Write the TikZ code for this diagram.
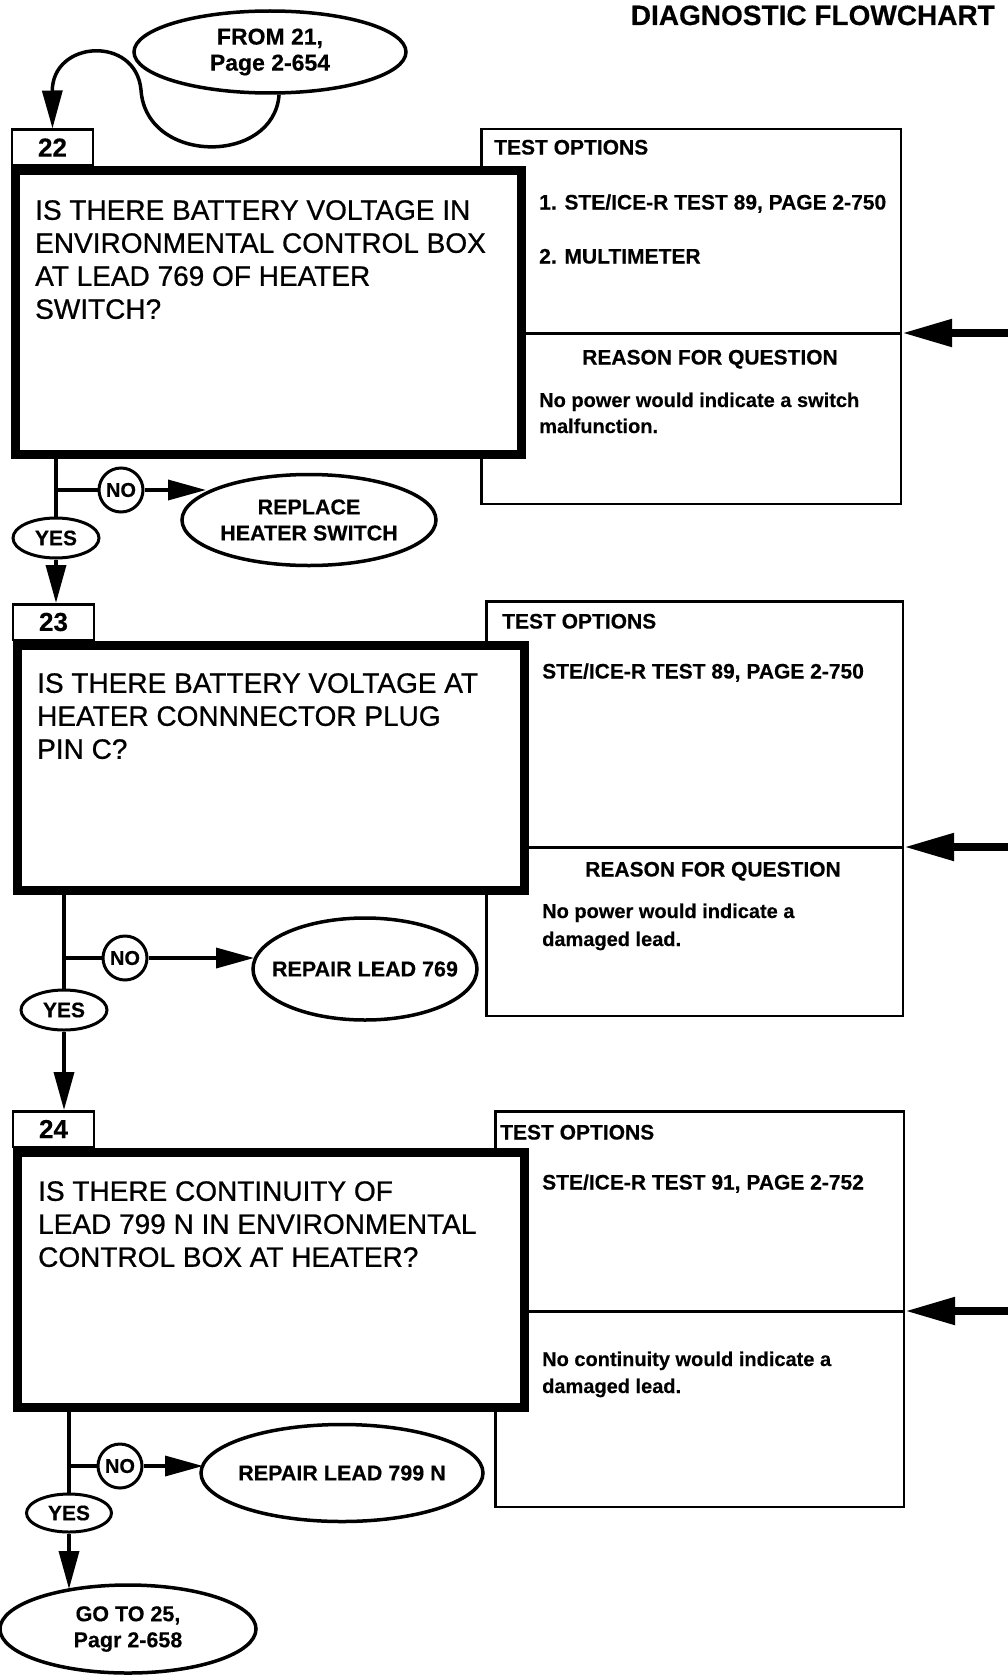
\documentclass[tikz,border=0pt]{standalone}
\usepackage{fontspec}
\setmainfont{Liberation Sans}
\usetikzlibrary{shapes.geometric,arrows.meta}
\begin{document}
\begin{tikzpicture}[x=1pt,y=-1pt,
  qbox/.style={draw, rectangle, line width=9pt, fill=white, inner sep=0pt},
  lblbox/.style={draw, rectangle, line width=2.5pt, fill=white, inner sep=0pt, minimum width=81pt, minimum height=35.5pt, font=\fontsize{26}{26}\selectfont\bfseries\addfontfeatures{FakeBold=0.4}},
  tbox/.style={draw, rectangle, line width=2.5pt, inner sep=0pt},
  tline/.style={line width=3pt},
  oval/.style={draw, ellipse, line width=3.5pt, inner sep=0pt, align=center, font=\fontsize{21.5}{26}\selectfont\bfseries\addfontfeatures{FakeBold=0.4}},
  yesoval/.style={draw, ellipse, line width=3pt, inner sep=0pt, minimum width=86pt, minimum height=40pt, font=\fontsize{21}{21}\selectfont\bfseries\addfontfeatures{FakeBold=0.4}},
  nocirc/.style={draw, circle, line width=3pt, inner sep=0pt, minimum size=44pt, font=\fontsize{20}{20}\selectfont\bfseries\addfontfeatures{FakeBold=0.4}},
  conn/.style={line width=3.5pt},
  arr/.style={line width=3.5pt, -{Triangle[length=38pt,width=20pt]}},
  bigarr/.style={line width=8pt, -{Triangle[length=50pt,width=26pt]}},
  small/.style={inner sep=0pt, anchor=base west, font=\fontsize{21}{25}\selectfont\bfseries\addfontfeatures{FakeBold=0.4}},
  note/.style={inner sep=0pt, anchor=base west, font=\fontsize{20}{26}\selectfont\bfseries\addfontfeatures{FakeBold=0.3}},
  qtext/.style={inner sep=0pt, anchor=north west, align=left, font=\fontsize{28}{33}\selectfont\addfontfeatures{FakeBold=0.7}}
]
\useasboundingbox (0,0) rectangle (1008,1675);

% title
\node[inner sep=0pt, anchor=base east, font=\fontsize{28}{28}\selectfont\bfseries\addfontfeatures{FakeBold=0.4}] (title) at (995,25) {DIAGNOSTIC FLOWCHART};

% entry oval
\node[oval, minimum width=272pt, minimum height=82pt, font=\fontsize{23}{26}\selectfont\bfseries\addfontfeatures{FakeBold=0.4}] (from) at (270,52) {FROM 21,\\Page 2-654};

% ---------- block 22 ----------
\node[tbox, minimum width=419.5pt, minimum height=374.5pt] (t1) at (691,316.5) {};
\node[lblbox] (lbl22) at (52.5,147.5) {22};
\node[qbox, minimum width=506pt, minimum height=284pt] (box22) at (268.5,312.5) {};
\node[qtext] (q22) at (35,200) {IS THERE BATTERY VOLTAGE IN\\ENVIRONMENTAL CONTROL BOX\\AT LEAD 769 OF HEATER\\SWITCH?};
\coordinate (r1) at (1008,333);
\draw[tline] (box22.east |- r1) -- (t1.east |- r1);
\draw[bigarr] (r1) -- (t1.east |- r1);
\node[small] (t1h) at (494,154.5) {TEST OPTIONS};
\node[small] (t1a) at (539,209.5) {1. STE/ICE-R TEST 89, PAGE 2-750};
\node[small] (t1b) at (539,263.5) {2. MULTIMETER};
\node[small, anchor=base] (t1r) at (710,364.5) {REASON FOR QUESTION};
\node[note] (t1n) at (539,407) {No power would indicate a switch};
\node[note] (t1m) at (539,433) {malfunction.};

\draw[conn] (from.282) .. controls (274,165) and (146,165) .. (141,90);
\draw[arr] (141,90) .. controls (136,35) and (52,40) .. (lbl22.north);

\node[yesoval] (yes1) at (56,538) {YES};
\node[nocirc] (no1) at (121,490) {NO};
\node[oval, minimum width=254pt, minimum height=91pt] (rep1) at (309,520) {REPLACE\\HEATER SWITCH};
\coordinate (a1) at (206,490);
\draw[conn] (yes1.north |- box22.south) -- (yes1.north);
\draw[conn] (yes1.north |- no1) -- (no1.west);
\draw[arr] (no1.east) -- (a1);

% ---------- block 23 ----------
\node[tbox, minimum width=416.5pt, minimum height=414.5pt] (t2) at (694.5,808.5) {};
\node[lblbox] (lbl23) at (53.5,622) {23};
\draw[arr] (yes1.south) -- (yes1.south |- lbl23.north);
\node[qbox, minimum width=507pt, minimum height=245pt] (box23) at (271,768) {};
\node[qtext] (q23) at (37,673) {IS THERE BATTERY VOLTAGE AT\\HEATER CONNNECTOR PLUG\\PIN C?};
\coordinate (r2) at (1008,847);
\draw[tline] (box23.east |- r2) -- (t2.east |- r2);
\draw[bigarr] (r2) -- (t2.east |- r2);
\node[small] (t2h) at (502,628.5) {TEST OPTIONS};
\node[small] (t2a) at (542,678.5) {STE/ICE-R TEST 89, PAGE 2-750};
\node[small, anchor=base] (t2r) at (713,876.5) {REASON FOR QUESTION};
\node[note] (t2n) at (542,918) {No power would indicate a};
\node[note] (t2m) at (542,946) {damaged lead.};

\node[yesoval] (yes2) at (64,1010) {YES};
\node[nocirc] (no2) at (125,958) {NO};
\node[oval, minimum width=224pt, minimum height=102pt] (rep2) at (365,969) {\makebox[0pt]{REPAIR LEAD 769}};
\coordinate (a2) at (254,958);
\draw[conn] (yes2.north |- box23.south) -- (yes2.north);
\draw[conn] (yes2.north |- no2) -- (no2.west);
\draw[arr] (no2.east) -- (a2);

% ---------- block 24 ----------
\node[tbox, minimum width=408.5pt, minimum height=395.5pt] (t3) at (699.5,1309) {};
\node[lblbox] (lbl24) at (53.5,1129) {24};
\draw[arr] (yes2.south) -- (yes2.south |- lbl24.north);
\node[qbox, minimum width=507pt, minimum height=255pt] (box24) at (271,1280) {};
\node[qtext] (q24) at (38,1181) {IS THERE CONTINUITY OF\\LEAD 799 N IN ENVIRONMENTAL\\CONTROL BOX AT HEATER?};
\coordinate (r3) at (1008,1311);
\draw[tline] (box24.east |- r3) -- (t3.east |- r3);
\draw[bigarr] (r3) -- (t3.east |- r3);
\node[small] (t3h) at (500,1139.5) {TEST OPTIONS};
\node[small] (t3a) at (542,1189.5) {STE/ICE-R TEST 91, PAGE 2-752};
\node[note] (t3n) at (542,1366) {No continuity would indicate a};
\node[note] (t3m) at (542,1393) {damaged lead.};

\node[yesoval, minimum width=85pt, minimum height=38pt] (yes3) at (69,1513) {YES};
\node[nocirc] (no3) at (120,1466) {NO};
\node[oval, minimum width=282pt, minimum height=97pt] (rep3) at (342,1473) {\makebox[0pt]{REPAIR LEAD 799 N}};
\coordinate (a3) at (203,1466);
\draw[conn] (yes3.north |- box24.south) -- (yes3.north);
\draw[conn] (yes3.north |- no3) -- (no3.west);
\draw[arr] (no3.east) -- (a3);

\node[oval, minimum width=256pt, minimum height=88pt] (goto) at (128,1629) {GO TO 25,\\Pagr 2-658};
\coordinate (g1) at (69,1589);
\draw[arr] (yes3.south) -- (g1);

\end{tikzpicture}
\end{document}
